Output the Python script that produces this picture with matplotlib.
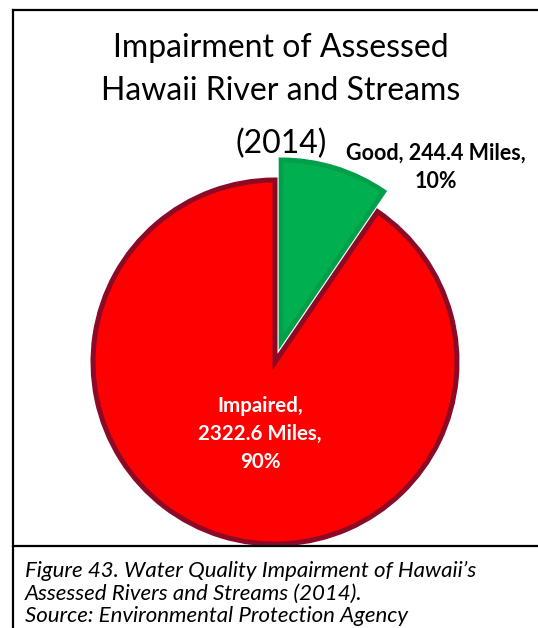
import matplotlib
matplotlib.use("Agg")
import matplotlib.pyplot as plt
from matplotlib.lines import Line2D

# data
categories = ["Good", "Impaired"]
miles = [244.4, 2322.6]
percents = [10, 90]
title_lines = ["Impairment of Assessed", "Hawaii River and Streams", "(2014)"]
caption_lines = [
    "Figure 43. Water Quality Impairment of Hawaii\u2019s",
    "Assessed Rivers and Streams (2014).",
    "Source: Environmental Protection Agency",
]

W, H = 538, 628
fig = plt.figure(figsize=(W / 100, H / 100), dpi=100)
plt.rcParams['font.family'] = ['Lato', 'DejaVu Sans']

# pie axes: 1 data unit = s px, centre at (cx, cy) px from top-left
s, cx, cy = 182.0, 275.0, 362.0
ax = fig.add_axes([0, 0, 1, 1])
wedges, _ = ax.pie(miles, startangle=90, counterclock=False,
                   explode=[0.115, 0], colors=["#00b050", "#ff0000"],
                   radius=1.0)
wedges[0].set_edgecolor("#00a04a")
wedges[1].set_edgecolor("#8c0a26")
for w in wedges:
    w.set_linewidth(3.6)
    w.set_joinstyle("miter")
ax.set_xlim(-cx / s, (W - cx) / s)
ax.set_ylim(-(H - cy) / s, cy / s)
ax.set_aspect("auto")
ax.axis("off")


def fx(px):
    return px / W


def fy(py):
    return 1 - py / H


# title
title_y = [57, 100, 153]
for line, yb in zip(title_lines, title_y):
    fig.text(fx(281), fy(yb), line, ha="center", va="baseline",
             fontsize=23, color="black")

# data labels
fig.text(fx(436), fy(160), f"{categories[0]}, {miles[0]} Miles,",
         ha="center", va="baseline", fontsize=15.5, fontweight="bold")
fig.text(fx(436), fy(188), f"{percents[0]}%",
         ha="center", va="baseline", fontsize=15.5, fontweight="bold")
imp = [f"{categories[1]},", f"{miles[1]} Miles,", f"{percents[1]}%"]
for line, yb in zip(imp, [412, 440, 468]):
    fig.text(fx(260), fy(yb), line, ha="center", va="baseline",
             fontsize=14.8, fontweight="bold", color="white")

# caption
for line, yb in zip(caption_lines, [577, 600, 622]):
    fig.text(fx(25), fy(yb), line, ha="left", va="baseline",
             fontsize=16, style="italic", color="black")

# frame lines
fig.add_artist(Line2D([fx(13), fx(13)], [fy(10), 0], color="black", lw=1.6))
fig.add_artist(Line2D([fx(13), 1], [fy(10), fy(10)], color="black", lw=1.6))
fig.add_artist(Line2D([fx(13), 1], [fy(546), fy(546)], color="black", lw=1.6))

fig.savefig("out.png", dpi=100)
